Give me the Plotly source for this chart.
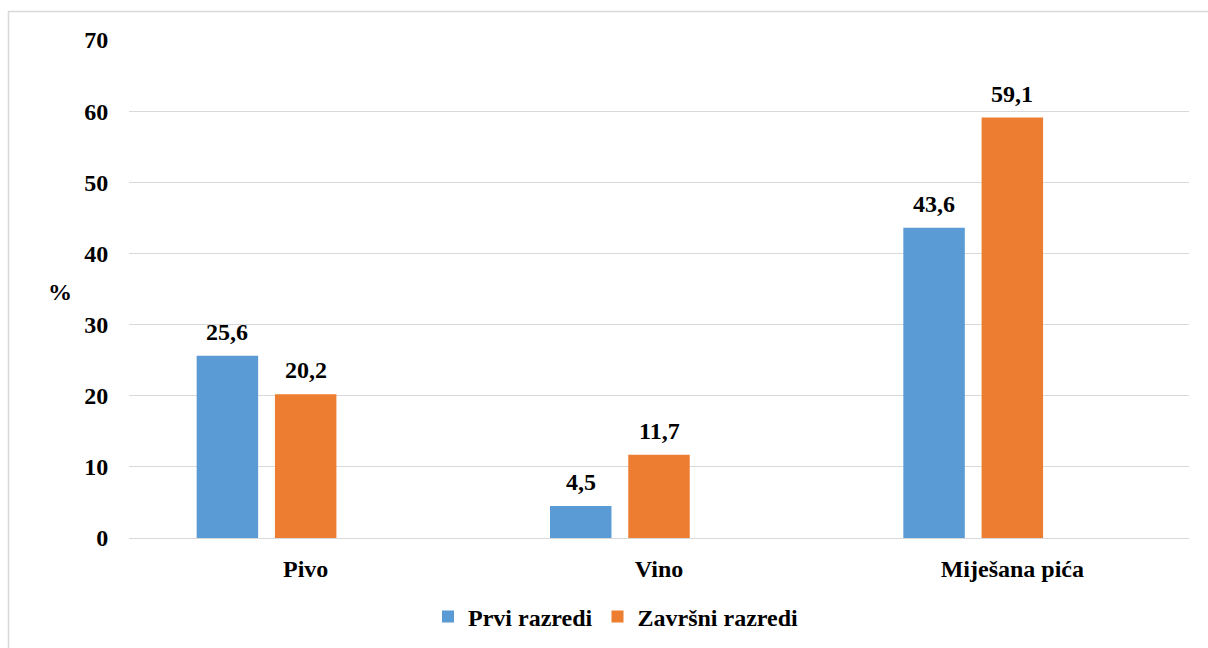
import plotly.graph_objects as go

categories = ["Pivo", "Vino", "Miješana pića"]
prvi = [25.6, 4.5, 43.6]
zavrsni = [20.2, 11.7, 59.1]
series_names = ["Prvi razredi", "Završni razredi"]
colors = ["#5b9bd5", "#ed7d31"]
y_ticks = [0, 10, 20, 30, 40, 50, 60, 70]

FONT = "Liberation Serif, Times New Roman, serif"
fs = 24

L, T = 129, 40
W_PLOT = 1060
H_PLOT = 498

fig = go.Figure()
annotations = []
BW = 0.174
for vals, name, col, off in [(prvi, series_names[0], colors[0], -0.3085),
                              (zavrsni, series_names[1], colors[1], -0.087)]:
    fig.add_trace(go.Bar(
        x=categories, y=vals, name=f"<b>{name}</b>", marker_color=col,
        marker_line_width=0, width=BW, offset=off,
    ))
    for i, v in enumerate(vals):
        annotations.append(dict(
            x=i + off + BW / 2, y=v, xref="x", yref="y",
            text=f"<b>{v:.1f}</b>".replace(".", ","),
            showarrow=False, yanchor="bottom", xanchor="center", yshift=9,
            font=dict(family=FONT, size=fs, color="black")))

annotations.append(dict(text="<b>%</b>", xref="paper", yref="paper",
                        x=(60 - L) / W_PLOT, y=(538 - 292) / H_PLOT,
                        xanchor="center", yanchor="middle", showarrow=False,
                        font=dict(family=FONT, size=fs, color="black")))

fig.update_layout(
    width=1208, height=648,
    margin=dict(l=L, r=1208 - L - W_PLOT, t=T, b=648 - T - H_PLOT),
    paper_bgcolor="white", plot_bgcolor="white",
    barmode="overlay",
    font=dict(family=FONT, size=fs, color="black"),
    showlegend=True,
    legend=dict(orientation="h", xref="container", x=616 / 1208, xanchor="center",
                yref="container", y=1 - 617 / 648, yanchor="middle",
                font=dict(family=FONT, size=fs, color="black"),
                traceorder="normal"),
    xaxis=dict(showgrid=False, showline=False, zeroline=False,
               ticks="outside", ticklen=9, tickcolor="rgba(0,0,0,0)",
               tickvals=categories, ticktext=[f"<b>{c}</b>" for c in categories],
               tickfont=dict(family=FONT, size=fs, color="black"),
               range=[-0.5, 2.5]),
    yaxis=dict(range=[0, 70], tickvals=y_ticks, ticktext=[f"<b>{v}</b>" for v in y_ticks],
               showgrid=True,
               gridcolor="#d9d9d9", gridwidth=1, zeroline=True,
               zerolinecolor="#d9d9d9", zerolinewidth=1, showline=False,
               ticks="outside", ticklen=15, tickcolor="rgba(0,0,0,0)",
               tickfont=dict(family=FONT, size=fs, color="black")),
    annotations=annotations,
    shapes=[dict(type="rect", xref="paper", yref="paper",
                 x0=(8.5 - L) / W_PLOT, x1=(1220 - L) / W_PLOT,
                 y0=(538 - 660) / H_PLOT, y1=(538 - 11.5) / H_PLOT,
                 line=dict(color="#d9d9d9", width=1.5), layer="below")],
)

fig.write_html(
    "out.html",
    config={"displayModeBar": False},
    post_script="document.body.style.margin='0';document.body.style.overflow='hidden';",
)
